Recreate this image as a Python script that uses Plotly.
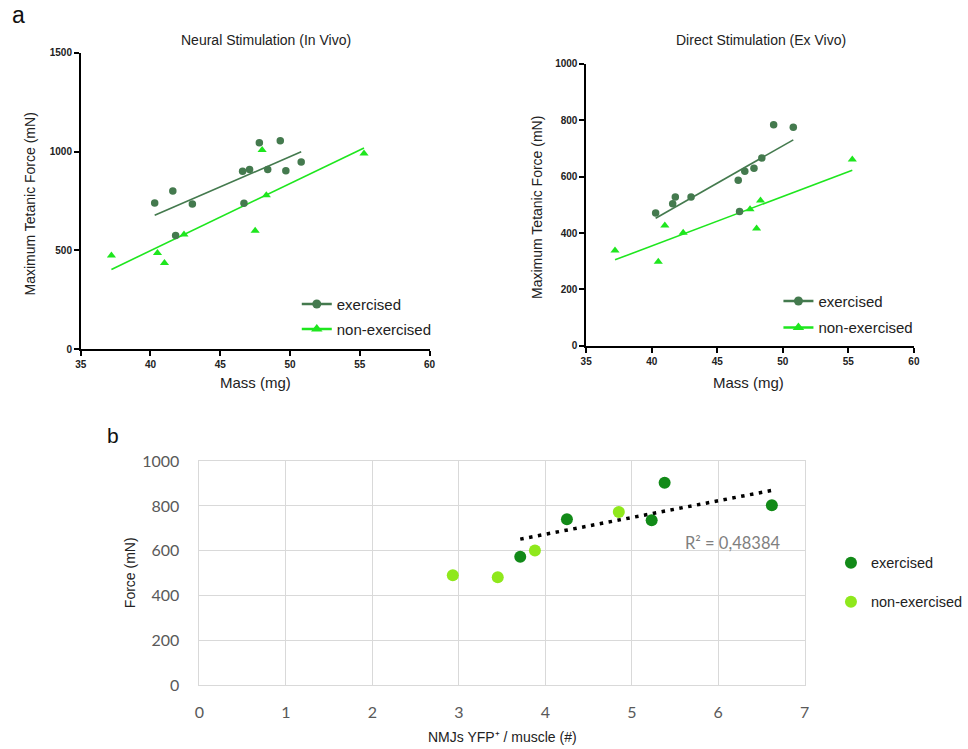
import numpy as np
import plotly.graph_objects as go

W, H = 968, 749

# ---------------- data ----------------
neural_ex_mass = [40.3, 41.6, 43.0, 41.8, 46.6, 47.1, 46.7, 47.8, 48.4, 49.3, 49.7, 50.8]
neural_ex_force = [740, 800, 735, 575, 900, 910, 738, 1045, 910, 1055, 903, 947]
neural_nonex_mass = [37.2, 40.5, 41.0, 42.4, 47.5, 48.0, 48.3, 55.3]
neural_nonex_force = [474, 487, 436, 581, 600, 1008, 779, 991]

direct_ex_mass = [40.3, 41.6, 41.8, 43.0, 46.6, 47.1, 47.8, 48.4, 46.7, 49.3, 50.8]
direct_ex_force = [471, 504, 528, 528, 587, 619, 630, 666, 476, 784, 775]
direct_nonex_mass = [37.2, 40.5, 41.0, 42.4, 47.5, 48.0, 48.3, 55.3]
direct_nonex_force = [338, 298, 427, 401, 484, 416, 515, 661]

nmj_ex = [3.71, 4.25, 5.23, 5.38, 6.62]
force_ex = [573, 740, 736, 903, 803]
nmj_nonex = [2.93, 3.45, 3.88, 4.85]
force_nonex = [491, 482, 601, 773]

mass_ticks = [35, 40, 45, 50, 55, 60]
neural_force_ticks = [0, 500, 1000, 1500]
direct_force_ticks = [0, 200, 400, 600, 800, 1000]
nmj_ticks = [0, 1, 2, 3, 4, 5, 6, 7]
b_force_ticks = [0, 200, 400, 600, 800, 1000]

r2_label = "R² = 0,48384"

# ---------------- styles ----------------
EX_A = "#447a4e"
NONEX_A = "#1ee61e"
EX_B = "#128a18"
NONEX_B = "#8fe81c"
FONT = "Liberation Sans, Arial, sans-serif"
FONT_B = "Lato, Liberation Sans, sans-serif"

# layout helpers: convert target picture pixels into paper fractions
SX, OX, SY, OY = 0.984, 5.6, 0.9759, 9.4


def px(x):
    return ((x - OX) / SX) / W


def py(y):
    return 1 - ((y - OY) / SY) / H


def fit(x, y):
    k, b = np.polyfit(np.array(x, float), np.array(y, float), 1)
    xs = np.array([min(x), max(x)])
    return xs, k * xs + b


fig = go.Figure()

# ---- panel a, left ----
fx, fy = fit(neural_ex_mass, neural_ex_force)
fig.add_trace(go.Scatter(x=fx, y=fy, mode="lines", line=dict(color=EX_A, width=1.6),
                         showlegend=False, xaxis="x", yaxis="y"))
fx, fy = fit(neural_nonex_mass, neural_nonex_force)
fig.add_trace(go.Scatter(x=fx, y=fy, mode="lines", line=dict(color=NONEX_A, width=1.6),
                         showlegend=False, xaxis="x", yaxis="y"))
fig.add_trace(go.Scatter(x=neural_ex_mass, y=neural_ex_force, mode="markers",
                         marker=dict(color=EX_A, size=7.5, symbol="circle"),
                         showlegend=False, xaxis="x", yaxis="y"))
fig.add_trace(go.Scatter(x=neural_nonex_mass, y=neural_nonex_force, mode="markers",
                         marker=dict(color=NONEX_A, size=8, symbol="triangle-up"),
                         showlegend=False, xaxis="x", yaxis="y"))
fig.add_trace(go.Scatter(x=[None], y=[None], mode="lines+markers", name="exercised",
                         line=dict(color=EX_A, width=2.5), marker=dict(color=EX_A, size=9, symbol="circle"),
                         legend="legend", xaxis="x", yaxis="y"))
fig.add_trace(go.Scatter(x=[None], y=[None], mode="lines+markers", name="non-exercised",
                         line=dict(color=NONEX_A, width=2.5), marker=dict(color=NONEX_A, size=10, symbol="triangle-up"),
                         legend="legend2", xaxis="x", yaxis="y"))

# ---- panel a, right ----
fx, fy = fit(direct_ex_mass, direct_ex_force)
fig.add_trace(go.Scatter(x=fx, y=fy, mode="lines", line=dict(color=EX_A, width=1.6),
                         showlegend=False, xaxis="x2", yaxis="y2"))
fx, fy = fit(direct_nonex_mass, direct_nonex_force)
fig.add_trace(go.Scatter(x=fx, y=fy, mode="lines", line=dict(color=NONEX_A, width=1.6),
                         showlegend=False, xaxis="x2", yaxis="y2"))
fig.add_trace(go.Scatter(x=direct_ex_mass, y=direct_ex_force, mode="markers",
                         marker=dict(color=EX_A, size=7.5, symbol="circle"),
                         showlegend=False, xaxis="x2", yaxis="y2"))
fig.add_trace(go.Scatter(x=direct_nonex_mass, y=direct_nonex_force, mode="markers",
                         marker=dict(color=NONEX_A, size=8, symbol="triangle-up"),
                         showlegend=False, xaxis="x2", yaxis="y2"))
fig.add_trace(go.Scatter(x=[None], y=[None], mode="lines+markers", name="exercised",
                         line=dict(color=EX_A, width=2.5), marker=dict(color=EX_A, size=9, symbol="circle"),
                         legend="legend3", xaxis="x2", yaxis="y2"))
fig.add_trace(go.Scatter(x=[None], y=[None], mode="lines+markers", name="non-exercised",
                         line=dict(color=NONEX_A, width=2.5), marker=dict(color=NONEX_A, size=10, symbol="triangle-up"),
                         legend="legend4", xaxis="x2", yaxis="y2"))

# ---- panel b ----
fx, fy = fit(nmj_ex, force_ex)
fig.add_trace(go.Scatter(x=fx, y=fy, mode="lines",
                         line=dict(color="black", width=3.5, dash="3.5px,5.5px"),
                         showlegend=False, xaxis="x3", yaxis="y3"))
fig.add_trace(go.Scatter(x=nmj_ex, y=force_ex, mode="markers", name="exercised",
                         marker=dict(color=EX_B, size=12), legend="legend5",
                         xaxis="x3", yaxis="y3"))
fig.add_trace(go.Scatter(x=nmj_nonex, y=force_nonex, mode="markers", name="non-exercised",
                         marker=dict(color=NONEX_B, size=12), legend="legend6",
                         xaxis="x3", yaxis="y3"))

axis_a = dict(showline=True, linecolor="black", linewidth=1.5, ticks="outside",
              ticklen=5, tickwidth=1.5, tickcolor="black", showgrid=False, zeroline=False,
              tickfont=dict(family=FONT, size=10, color="#222", weight="bold"))

fig.update_layout(
    width=W, height=H, autosize=False,
    margin=dict(l=0, r=0, t=0, b=0),
    paper_bgcolor="white", plot_bgcolor="white",
    font=dict(family=FONT, color="#222"),
    xaxis=dict(axis_a, domain=[px(81), px(433)], range=[35, 60], tickvals=mass_ticks, anchor="y"),
    yaxis=dict(axis_a, domain=[py(349), py(52.3)], range=[0, 1500], tickvals=neural_force_ticks, anchor="x"),
    xaxis2=dict(axis_a, domain=[px(591), px(921.7)], range=[35, 60], tickvals=mass_ticks, anchor="y2"),
    yaxis2=dict(axis_a, domain=[py(345.7), py(63.3)], range=[0, 1000], tickvals=direct_force_ticks, anchor="x2"),
    xaxis3=dict(domain=[px(200.8), px(811.5)], range=[0, 7], tickvals=nmj_ticks, anchor="y3",
                showgrid=True, gridcolor="#d9d9d9", gridwidth=1, zeroline=False,
                showline=True, linecolor="#d9d9d9", linewidth=1, mirror=True,
                ticks="", ticklabelstandoff=12,
                tickfont=dict(family=FONT_B, size=16, color="#595959")),
    yaxis3=dict(domain=[py(685.7), py(461)], range=[0, 1000], tickvals=b_force_ticks, anchor="x3",
                showgrid=True, gridcolor="#d9d9d9", gridwidth=1, zeroline=False,
                showline=True, linecolor="#d9d9d9", linewidth=1, mirror=True,
                ticks="", ticklabelstandoff=16,
                tickfont=dict(family=FONT_B, size=16, color="#595959")),
)

leg_common = dict(bgcolor="rgba(0,0,0,0)", borderwidth=0, xanchor="left", yanchor="middle",
                  font=dict(family=FONT, size=15, color="#222"))
leg_b_font = dict(family=FONT, size=14.5, color="#222")
fig.update_layout(
    legend=dict(leg_common, x=px(299), y=py(304)),
    legend2=dict(leg_common, x=px(299), y=py(329)),
    legend3=dict(leg_common, x=px(785), y=py(301)),
    legend4=dict(leg_common, x=px(785), y=py(327.5)),
    legend5=dict(leg_common, x=px(838), y=py(563), font=leg_b_font),
    legend6=dict(leg_common, x=px(838), y=py(602), font=leg_b_font),
)

ann = []


def add_text(text, x, y, size, angle=0, color="#222", family=FONT, xanchor="center"):
    ann.append(dict(text=text, x=px(x), y=py(y), xref="paper", yref="paper",
                    showarrow=False, textangle=angle, xanchor=xanchor, yanchor="middle",
                    font=dict(family=family, size=size, color=color)))


add_text("a", 18, 14, 23, color="#111")
add_text("b", 114, 435, 21, color="#111")
add_text("Neural Stimulation (In Vivo)", 268, 39, 14)
add_text("Direct Stimulation (Ex Vivo)", 767, 39, 14)
add_text("Maximum Tetanic Force (mN)", 30, 204, 14, angle=-90)
add_text("Maximum Tetanic Force (mN)", 542, 207, 14, angle=-90)
add_text("Mass (mg)", 257, 382, 15)
add_text("Mass (mg)", 755, 382, 15)
add_text("Force (mN)", 131, 573, 14, angle=-90)
add_text("NMJs YFP⁺ / muscle (#)", 507, 737, 14)

ann.append(dict(text=r2_label, x=6.17, y=636, xref="x3", yref="y3", showarrow=False,
                xanchor="center", yanchor="middle",
                font=dict(family=FONT_B, size=16.5, color="#7f7f7f")))

fig.update_layout(annotations=ann)

fig.write_html("out.html", config={"displayModeBar": False},
               post_script="document.body.style.margin='0';document.body.style.overflow='hidden';")
